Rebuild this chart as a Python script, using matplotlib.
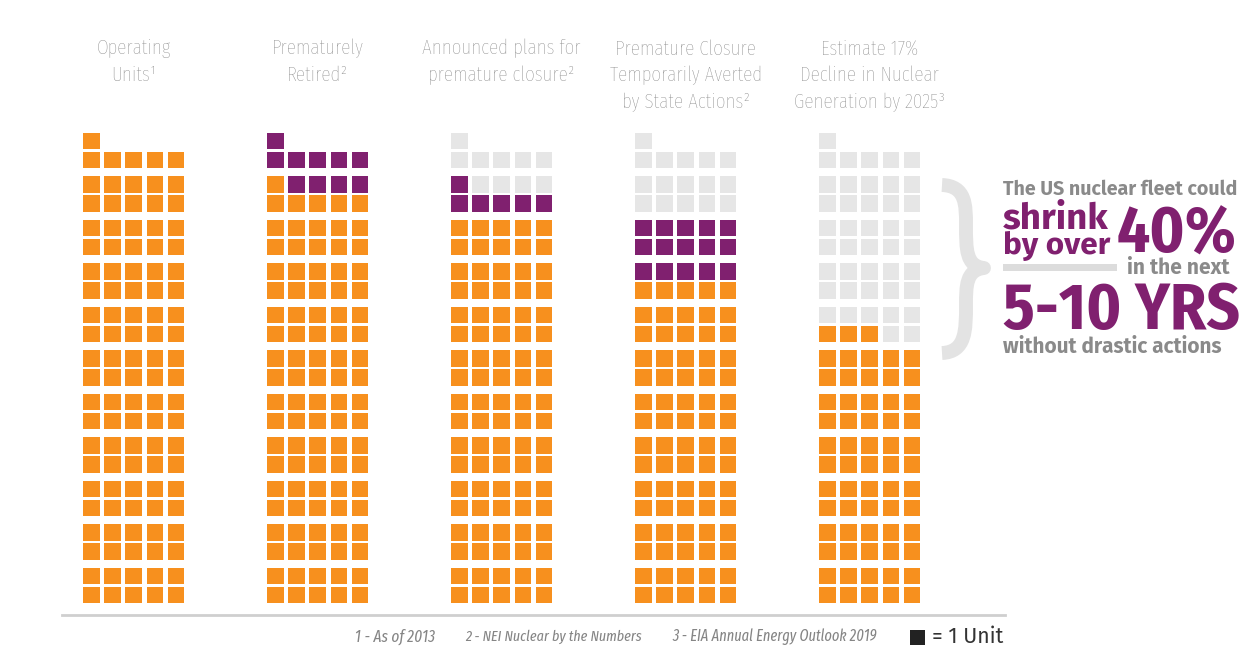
import matplotlib
matplotlib.use("Agg")
import matplotlib.pyplot as plt
from matplotlib.patches import Rectangle, PathPatch
from matplotlib.path import Path

# data: units per column (filled from bottom-left)
headers = ["Operating\nUnits\u00b9",
           "Prematurely\nRetired\u00b2",
           "Announced plans for\npremature closure\u00b2",
           "Premature Closure\nTemporarily Averted\nby State Actions\u00b2",
           "Estimate 17%\nDecline in Nuclear\nGeneration by 2025\u00b3"]
operating = [106, 96, 90, 75, 63]
highlighted = [0, 10, 6, 15, 0]
removed = [0, 0, 10, 16, 43]
footnotes = ["1 - As of 2013", "2 - NEI Nuclear by the Numbers",
             "3 - EIA Annual Energy Outlook 2019"]

ORANGE = "#f7901e"
PURPLE = "#80206f"
LIGHT = "#e6e6e6"
GREY_TXT = "#858585"

narrow = ["Fira Sans Extra Condensed", "DejaVu Sans"]
cond = ["Fira Sans Condensed", "DejaVu Sans"]
bold = ["Fira Sans", "DejaVu Sans"]

fig = plt.figure(figsize=(12.47, 6.47), dpi=100)
ax = fig.add_axes([0, 0, 1, 1])
ax.set_xlim(0, 1247)
ax.set_ylim(647, 0)
ax.axis("off")
renderer = fig.canvas.get_renderer()


def fit_text(x, y, s, width, **kw):
    # scale font size so the text gets the wanted pixel width
    t = ax.text(x, y, s, **kw)
    w = t.get_window_extent(renderer).width
    t.set_fontsize(t.get_fontsize() * width / w)
    return t


# waffle columns
sq = 16.5
pitch_x = 21.2
for c in range(len(headers)):
    x0 = 83 + c * 184
    colors = [ORANGE] * operating[c] + [PURPLE] * highlighted[c] + [LIGHT] * removed[c]
    for i, col in enumerate(colors):
        r, k = divmod(i, 5)
        yc = 595 - (r // 2) * 43.5 - (r % 2) * 19
        ax.add_patch(Rectangle((x0 + k * pitch_x, yc - sq / 2), sq, sq,
                               color=col, lw=0))
    ax.text(x0 + (4 * pitch_x + sq) / 2, 39, headers[c], ha="center", va="top",
            fontsize=15, family=narrow, weight="light", color=GREY_TXT,
            linespacing=1.47)

# right hand message
fit_text(1003, 189, "The US nuclear fleet could", 234, family=bold,
         weight="bold", color="#8a8a8a", va="center", fontsize=12)
fit_text(1003, 219, "shrink", 106, family=bold, weight="bold",
         color=PURPLE, va="center", fontsize=20)
fit_text(1003, 246, "by over", 107, family=bold, weight="bold",
         color=PURPLE, va="center", fontsize=18)
fit_text(1117, 235, "40%", 120, family=cond, weight="bold",
         color=PURPLE, va="center", fontsize=40)
ax.add_patch(Rectangle((1003, 264), 114, 7, color="#dcdcdc", lw=0))
fit_text(1127, 268, "in the next", 103, family=bold, weight="bold",
         color="#8a8a8a", va="center", fontsize=12)
fit_text(1003, 312, "5-10 YRS", 237, family=cond, weight="bold",
         color=PURPLE, va="center", fontsize=44)
fit_text(1003, 347, "without drastic actions", 219, family=bold,
         weight="bold", color="#8a8a8a", va="center", fontsize=12)

# curly brace
verts = [(942, 185), (966, 186), (966, 205), (966, 225),
         (966, 250), (966, 266), (984, 268),
         (966, 270), (966, 286), (966, 305),
         (966, 330), (966, 352), (942, 353)]
codes = [Path.MOVETO] + [Path.CURVE4] * 12
ax.add_patch(PathPatch(Path(verts, codes), fill=False, ec="#e3e3e3",
                       lw=10, capstyle="butt", joinstyle="round"))

# baseline and footnotes
ax.plot([62, 1005], [615, 615], color="#cfcfcf", lw=2)
fit_text(355, 637, footnotes[0], 80, family=narrow, style="italic",
         color=GREY_TXT, va="center", fontsize=12)
fit_text(465, 637, footnotes[1], 177, family=narrow, style="italic",
         color=GREY_TXT, va="center", fontsize=12)
fit_text(672, 637, footnotes[2], 205, family=narrow, style="italic",
         color=GREY_TXT, va="center", fontsize=12)
ax.add_patch(Rectangle((910, 630), 15, 15, color="#222222", lw=0))
fit_text(932, 637, "= 1 Unit", 71, family=bold,
         color="#333333", va="center", fontsize=12)

fig.savefig("out.png", dpi=100)
